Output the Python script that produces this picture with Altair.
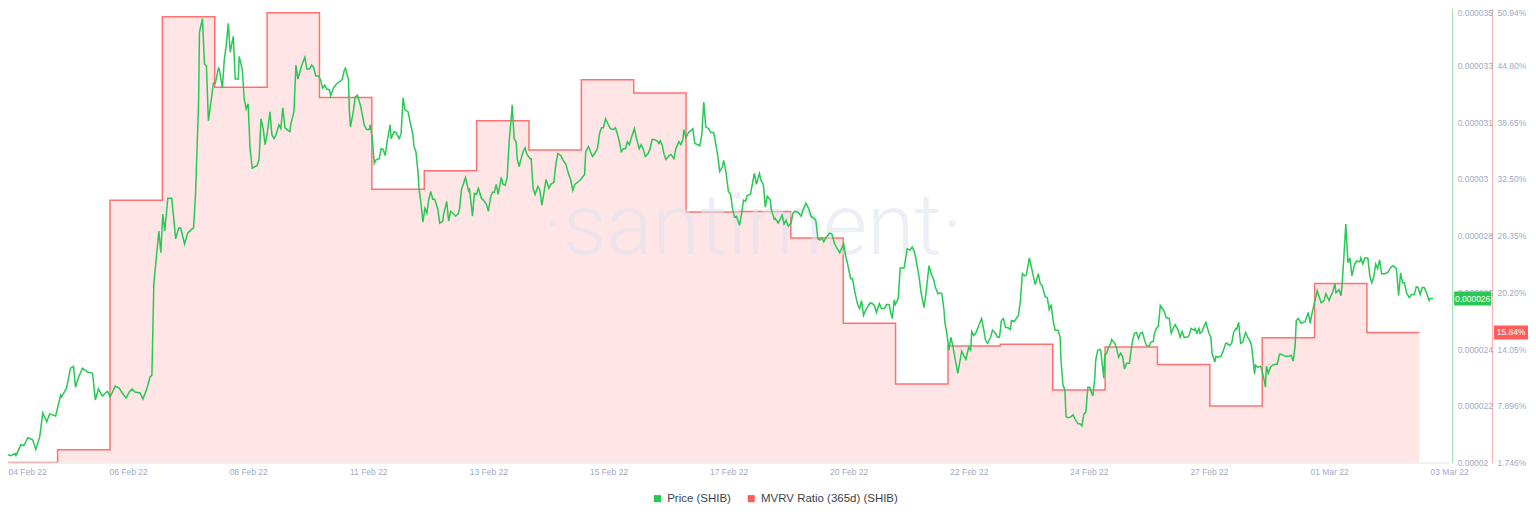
import json
import altair as alt
import pandas as pd

# ---------------- data ----------------
# Price of SHIB: hours after 2022-02-04 00:00 UTC, and price in millionths of USD
price_hours = [
    1.3, 2.6, 4.5, 4.9, 7.2, 8.5, 10.4, 12.6, 14.0, 15.8, 17.2, 19.0, 20.4, 23.1, 25.4, 25.8, 28.1, 29.9, 31.3, 32.2,
    33.6, 35.4, 37.7, 40.0, 41.3, 42.7, 44.5, 46.8, 48.1, 50.4, 52.2, 53.6, 55.4, 56.8, 58.1, 59.5, 61.8, 63.1, 65.0, 66.3,
    67.2, 68.1, 70.4, 71.3, 72.2, 73.1, 74.5, 76.3, 77.2, 78.1, 79.5, 80.4, 82.2, 83.6, 85.4, 86.3, 87.2, 88.6, 89.0, 90.4,
    91.3, 92.2, 93.1, 94.1, 95.4, 96.3, 97.7, 98.1, 99.5, 100.4, 101.3, 102.2, 103.1, 104.5, 105.4, 106.8, 107.2, 108.6, 109.5, 110.4,
    111.3, 112.2, 113.2, 114.5, 115.4, 116.3, 117.2, 118.2, 119.1, 120.0, 121.3, 122.2, 123.2, 124.1, 125.4, 126.3, 127.2, 128.2, 129.1, 130.4,
    130.9, 132.3, 133.2, 134.1, 135.0, 135.9, 137.3, 138.2, 139.5, 140.4, 141.3, 142.3, 143.6, 144.5, 145.4, 146.4, 147.3, 148.6, 149.1, 150.4,
    151.4, 152.3, 153.6, 154.5, 155.4, 155.9, 157.3, 157.7, 158.2, 159.5, 160.4, 161.4, 162.7, 163.2, 164.5, 165.5, 166.8, 167.3, 168.2, 169.1,
    170.0, 171.4, 172.3, 173.2, 174.1, 175.0, 176.4, 176.8, 178.2, 179.1, 180.5, 181.4, 182.3, 183.2, 184.6, 185.5, 186.8, 187.3, 188.2, 189.1,
    189.6, 190.5, 191.4, 192.3, 193.2, 194.1, 195.0, 195.9, 196.8, 198.2, 199.1, 200.5, 200.9, 202.3, 203.2, 204.1, 205.5, 206.4, 207.7, 208.2,
    209.1, 210.0, 210.9, 212.3, 212.7, 214.1, 215.0, 215.9, 216.8, 218.2, 219.1, 220.5, 221.4, 222.3, 223.2, 224.1, 225.0, 225.9, 227.3, 228.2,
    229.1, 230.0, 230.9, 231.9, 232.3, 233.2, 234.1, 234.6, 235.5, 236.4, 237.3, 238.2, 239.1, 240.5, 241.0, 241.9, 242.8, 244.1, 245.0, 245.9,
    246.9, 247.8, 249.1, 250.0, 251.4, 252.3, 253.2, 254.6, 255.5, 256.9, 258.2, 259.1, 260.1, 261.0, 262.3, 263.7, 265.5, 266.0, 267.3, 268.2,
    269.1, 270.1, 271.4, 272.3, 273.2, 274.1, 275.1, 276.4, 277.3, 278.7, 279.6, 280.5, 281.4, 282.3, 283.3, 284.2, 285.1, 286.0, 286.9, 288.3,
    289.2, 290.5, 291.4, 292.3, 293.3, 294.6, 295.5, 296.4, 297.3, 298.7, 299.6, 300.1, 301.0, 301.9, 302.8, 304.2, 305.1, 306.4, 307.3, 308.7,
    309.6, 310.5, 311.0, 311.9, 313.3, 314.2, 315.1, 316.0, 317.4, 318.3, 319.2, 320.1, 321.0, 322.4, 323.3, 324.6, 325.1, 326.4, 327.4, 328.7,
    329.2, 330.1, 331.4, 332.4, 333.3, 334.2, 335.1, 336.5, 337.4, 338.3, 339.2, 340.1, 341.5, 342.4, 343.3, 344.2, 345.6, 346.5, 347.4, 348.3,
    349.2, 350.6, 351.0, 352.4, 352.8, 354.2, 355.1, 356.0, 356.9, 357.8, 358.8, 360.1, 361.0, 361.9, 363.3, 364.7, 365.6, 366.9, 368.3, 369.2,
    370.6, 371.5, 372.4, 373.3, 374.2, 375.1, 376.0, 377.8, 378.8, 380.1, 382.4, 383.3, 384.2, 385.1, 386.0, 387.4, 388.3, 389.2, 390.6, 391.5,
    392.4, 393.3, 394.2, 395.6, 396.5, 397.4, 398.3, 399.2, 400.6, 401.5, 402.9, 403.8, 405.1, 405.6, 406.5, 407.4, 407.9, 409.2, 410.1, 411.9,
    413.3, 414.7, 415.6, 416.5, 417.4, 418.8, 419.7, 421.0, 421.9, 423.3, 424.2, 425.6, 426.0, 427.4, 428.3, 429.2, 430.1, 430.6, 431.5, 432.4,
    433.3, 434.2, 435.2, 436.5, 437.4, 438.3, 439.2, 440.2, 441.5, 442.4, 442.9, 443.8, 444.7, 446.1, 447.4, 448.3, 449.2, 450.1, 451.5, 452.4,
    453.8, 454.7, 455.6, 456.5, 457.4, 458.4, 459.3, 460.6, 461.1, 462.4, 463.3, 464.3, 465.2, 465.6, 466.1, 467.0, 467.9, 469.3, 470.2, 471.1,
    472.0, 473.4, 474.3, 475.2, 476.5, 477.5, 478.4, 479.3, 480.2, 481.1, 482.5, 483.4, 483.8, 484.7, 485.6, 486.1, 487.0, 488.4, 489.3, 490.2,
    491.6, 492.5, 493.4, 494.3, 495.2, 496.1, 497.0, 497.5, 498.4, 499.3, 499.7, 500.6, 501.6, 502.0, 503.4, 503.8, 504.7, 505.6, 506.6, 507.0,
    508.4, 509.3, 510.2, 511.1, 512.0, 512.9, 513.8, 515.2, 515.7, 516.6, 517.5, 518.4, 519.3, 520.2, 521.1, 522.0, 522.9, 524.3, 524.8, 526.1,
    526.6, 527.5, 528.4, 529.3, 530.2, 531.1, 532.0, 533.4, 534.3, 535.2, 536.1, 537.5, 538.4, 539.3, 540.2, 541.6, 542.5, 543.4, 544.8, 545.2,
    546.1, 547.0, 547.5, 548.4, 549.3, 550.2, 551.6, 552.5, 553.0, 554.3, 554.8, 555.7, 557.0, 557.9, 559.3, 559.8, 561.1, 562.0, 562.9, 563.9,
    564.3, 565.2, 566.1, 567.0, 568.4, 569.3, 570.2, 571.1, 571.6, 572.5, 572.9, 573.9, 575.2, 575.7, 576.6, 577.5, 577.9, 578.8, 579.8, 580.7,
    582.0, 582.9, 583.9, 584.8, 585.7, 586.6, 588.0, 589.3, 590.2, 591.1, 591.6, 592.5, 593.9, 594.8, 595.7, 597.1, 598.0, 598.9, 600.2, 601.2,
    602.1, 603.0, 604.3, 605.2, 606.6, 607.5, 608.4, 609.3, 609.8, 611.2, 612.1, 612.5, 613.4, 614.3, 615.3, 616.2, 617.1, 618.4, 619.3, 620.7,
    621.2, 622.1, 623.0, 624.4, 625.3, 626.2, 627.1, 628.0, 628.9, 629.8, 630.7, 632.1, 633.4, 634.8, 635.7, 636.6, 637.5, 638.5, 639.4, 640.3,
    641.2, 642.1, 643.4, 644.4, 645.7, 646.6, 647.5, 648.4, 649.3, 650.2, 651.1, 652.5, 652.9, 654.3,
]
price_usd_e6 = [
    20.26, 20.23, 20.30, 20.23, 20.59, 20.56, 20.82, 20.75, 20.43, 20.85, 21.64, 21.35, 21.61, 21.54, 22.23, 22.17, 22.46, 23.12, 23.18, 22.49,
    22.82, 23.12, 22.99, 22.95, 22.07, 22.43, 22.20, 22.36, 22.17, 22.53, 22.46, 22.30, 22.13, 22.33, 22.43, 22.33, 22.30, 22.10, 22.46, 22.82,
    22.89, 25.91, 27.65, 26.93, 28.21, 27.65, 28.73, 28.73, 28.07, 27.39, 27.75, 27.75, 27.22, 27.58, 27.71, 27.75, 28.86, 31.91, 34.21, 34.67,
    33.16, 33.10, 31.29, 31.82, 32.54, 32.54, 33.03, 33.00, 32.37, 33.33, 33.79, 34.51, 33.56, 34.08, 32.67, 32.67, 33.42, 33.00, 32.01, 31.68,
    31.85, 30.37, 29.72, 29.78, 29.81, 30.01, 31.36, 31.03, 30.50, 30.83, 31.59, 30.83, 30.70, 30.83, 31.16, 31.03, 31.72, 31.06, 31.00, 30.93,
    31.19, 31.59, 33.13, 32.67, 32.90, 33.13, 33.39, 33.00, 33.00, 33.13, 33.06, 32.77, 32.77, 32.64, 32.37, 32.47, 32.34, 32.31, 32.11, 32.37,
    32.47, 32.54, 32.60, 32.67, 32.97, 33.03, 32.64, 31.59, 31.09, 31.59, 32.08, 32.14, 31.82, 31.65, 31.16, 31.00, 31.00, 31.16, 30.70, 29.88,
    30.01, 30.04, 30.37, 30.34, 30.14, 30.60, 31.16, 30.70, 30.93, 30.90, 30.70, 30.86, 32.05, 31.65, 31.59, 31.26, 30.83, 30.44, 30.27, 29.62,
    29.06, 28.57, 27.94, 28.40, 28.24, 28.70, 28.96, 28.70, 28.70, 28.37, 27.91, 27.98, 28.21, 28.63, 27.98, 28.30, 28.21, 28.14, 28.24, 28.40,
    29.03, 29.22, 29.42, 28.99, 29.06, 28.14, 28.89, 28.86, 29.06, 28.73, 28.67, 28.53, 28.30, 28.73, 28.93, 28.93, 29.19, 28.86, 29.42, 29.19,
    29.16, 29.42, 30.60, 31.42, 31.82, 30.70, 30.60, 30.04, 29.78, 30.04, 30.27, 30.40, 30.18, 30.04, 30.04, 29.06, 28.86, 29.12, 28.99, 28.50,
    28.93, 29.35, 29.06, 29.19, 29.26, 29.85, 30.21, 30.14, 30.01, 29.85, 29.52, 29.35, 28.99, 29.19, 29.26, 29.35, 29.52, 30.27, 30.44, 30.27,
    30.11, 30.21, 30.37, 30.86, 31.06, 31.06, 31.36, 31.16, 31.03, 31.00, 31.06, 30.86, 30.60, 30.27, 30.37, 30.37, 30.60, 30.50, 30.73, 31.03,
    30.73, 30.37, 30.50, 30.37, 30.11, 30.21, 30.37, 30.67, 30.67, 30.63, 30.54, 30.63, 30.50, 30.18, 30.01, 30.14, 30.18, 30.04, 30.37, 30.60,
    30.50, 30.67, 31.00, 30.73, 30.93, 30.96, 31.03, 30.54, 30.50, 30.47, 30.83, 31.91, 31.09, 31.03, 30.90, 30.90, 30.73, 30.18, 29.62, 29.78,
    29.98, 29.68, 28.96, 28.86, 28.37, 28.11, 28.14, 27.84, 28.21, 28.67, 28.63, 28.83, 28.86, 29.22, 29.55, 29.19, 29.55, 29.29, 29.19, 28.44,
    28.80, 28.67, 28.37, 28.04, 28.07, 27.91, 28.04, 28.17, 27.88, 28.01, 27.81, 27.91, 28.24, 28.30, 28.27, 28.14, 28.34, 28.57, 28.37, 28.14,
    28.07, 27.98, 27.39, 27.35, 27.42, 27.29, 27.42, 27.58, 27.55, 27.22, 26.93, 27.09, 27.22, 26.83, 26.56, 26.07, 26.07, 25.68, 25.22, 25.09,
    25.35, 24.86, 25.02, 25.19, 25.28, 25.25, 25.19, 24.96, 25.25, 25.09, 25.09, 25.22, 25.22, 24.99, 24.76, 25.38, 25.22, 25.42, 26.43, 26.43,
    27.06, 27.02, 27.12, 26.99, 26.70, 26.11, 25.61, 25.12, 25.58, 26.50, 26.27, 26.01, 25.84, 25.58, 25.61, 25.58, 25.09, 24.63, 24.27, 23.71,
    24.14, 23.87, 23.45, 22.95, 23.32, 23.68, 23.54, 23.41, 23.81, 23.71, 24.33, 24.20, 24.27, 24.53, 24.76, 24.43, 24.04, 23.94, 24.14, 24.37,
    24.27, 24.14, 24.14, 24.69, 24.76, 24.46, 24.46, 24.40, 24.69, 24.66, 24.76, 24.86, 25.35, 25.78, 26.24, 26.17, 26.20, 26.76, 26.47, 26.17,
    25.88, 26.24, 25.91, 25.84, 25.48, 25.45, 25.05, 25.22, 24.69, 24.37, 24.37, 24.14, 23.38, 22.56, 22.40, 21.51, 21.48, 21.51, 21.58, 21.44,
    21.28, 21.28, 21.21, 21.61, 21.67, 22.49, 22.49, 22.36, 22.20, 22.82, 23.38, 23.71, 23.74, 23.71, 22.79, 23.54, 23.61, 23.81, 23.94, 24.07,
    23.94, 23.77, 23.48, 23.61, 23.51, 23.09, 23.28, 23.28, 23.61, 24.04, 24.27, 24.30, 24.10, 24.27, 24.30, 24.07, 23.87, 23.84, 23.97, 24.00,
    24.27, 24.43, 24.50, 25.19, 25.09, 24.99, 24.79, 24.76, 24.27, 24.43, 24.56, 24.37, 24.14, 24.33, 24.14, 24.14, 24.20, 24.43, 24.37, 24.43,
    24.27, 24.43, 24.27, 24.33, 24.50, 24.63, 24.27, 24.14, 23.61, 23.32, 23.51, 23.48, 23.51, 23.64, 23.94, 23.94, 23.87, 23.94, 24.30, 24.43,
    24.40, 24.63, 23.94, 23.97, 24.30, 24.14, 24.04, 23.87, 23.54, 22.92, 23.22, 23.15, 23.18, 23.09, 22.82, 22.49, 23.18, 22.95, 23.15, 23.22,
    23.25, 23.25, 23.58, 23.58, 23.54, 23.51, 23.51, 23.54, 23.35, 23.87, 24.69, 24.76, 24.60, 24.63, 24.66, 24.96, 24.60, 24.96, 25.35, 25.68,
    25.48, 25.28, 25.35, 25.58, 25.35, 25.51, 25.65, 25.91, 25.61, 25.71, 25.51, 25.78, 26.76, 27.88, 26.60, 26.76, 26.17, 26.56, 26.66, 26.63,
    26.76, 26.56, 26.76, 26.76, 26.17, 25.94, 26.11, 26.56, 26.40, 26.70, 26.24, 26.24, 26.27, 26.43, 26.50, 26.47, 26.40, 25.51, 26.27, 25.94,
    25.94, 25.61, 25.45, 25.55, 25.55, 25.81, 25.78, 25.55, 25.78, 25.78, 25.65, 25.35, 25.42, 25.42,
]

# MVRV Ratio (365d), daily values in percent
mvrv_dates = [
    "2022-02-04", "2022-02-05", "2022-02-06", "2022-02-07", "2022-02-08", "2022-02-09", "2022-02-10",
    "2022-02-11", "2022-02-12", "2022-02-13", "2022-02-14", "2022-02-15", "2022-02-16", "2022-02-17",
    "2022-02-18", "2022-02-19", "2022-02-20", "2022-02-21", "2022-02-22", "2022-02-23", "2022-02-24",
    "2022-02-25", "2022-02-26", "2022-02-27", "2022-02-28", "2022-03-01", "2022-03-02",
]
mvrv_pct = [
    1.746, 3.15, 30.17, 50.05, 42.40, 50.48, 41.29,
    31.35, 33.36, 38.78, 35.62, 43.23, 41.79, 28.90,
    28.95, 26.08, 16.85, 10.25, 14.37, 14.56, 9.60,
    14.27, 12.37, 7.88, 15.28, 21.16, 15.84,
]

x_tick_labels = ["04 Feb 22", "06 Feb 22", "08 Feb 22", "11 Feb 22", "13 Feb 22", "15 Feb 22", "17 Feb 22",
                 "20 Feb 22", "22 Feb 22", "24 Feb 22", "27 Feb 22", "01 Mar 22", "03 Mar 22"]
price_tick_labels = ["0.00002", "0.000022", "0.000024", "0.000026", "0.000028", "0.00003",
                     "0.000031", "0.000033", "0.000035"]
mvrv_tick_labels = ["1.746%", "7.896%", "14.05%", "20.20%", "26.35%", "32.50%", "38.65%", "44.80%", "50.94%"]
price_badge_label = "0.000026"
series_names = ["Price (SHIB)", "MVRV Ratio (365d) (SHIB)"]
watermark_text = ["\u00b7santiment\u00b7"]

# ---------------- styling ----------------
W, H = 1444, 455
GREEN, RED = "#26C953", "#FF5B5B"
LABEL_COLOR = "#9faac4"
AXIS_FONT = "Liberation Sans"
AXIS_FS = 8.5


def label_expr(values, labels, eps):
    """Nested ternary that maps each tick value to its text."""
    expr = '""'
    for v, lab in reversed(list(zip(values, labels))):
        expr = f"abs(datum.value - ({v!r})) < {eps!r} ? {json.dumps(lab)} : ({expr})"
    return expr


# ---------------- frames ----------------
base = pd.Timestamp("2022-02-04")
price_df = pd.DataFrame({
    "time": (base + pd.to_timedelta(price_hours, unit="h")).strftime("%Y-%m-%dT%H:%M:%SZ"),
    "price": [v * 1e-6 for v in price_usd_e6],
})
mvrv_df = pd.DataFrame({
    "time": [d + "T00:00:00Z" for d in mvrv_dates + ["2022-03-03"]],
    "mvrv": mvrv_pct + [mvrv_pct[-1]],   # closes the last daily step
})

# x domain and evenly spaced ticks
t0 = pd.Timestamp("2022-02-04 01:16")
t1 = t0 + pd.Timedelta(hours=660.4)
t0_ms = int(t0.value // 10**6)
t1_ms = int(t1.value // 10**6)
x_step = (t1_ms - t0_ms) / 12
x_ticks = [t0_ms + k * x_step for k in range(13)]
x_scale = alt.Scale(type="utc", domain=[t0_ms, t1_ms])

p_lo, p_hi = 2e-5, 3.5e-5
p_step = (p_hi - p_lo) / 8
price_ticks = [p_lo + k * p_step for k in range(9)]
price_scale = alt.Scale(domain=[p_lo, p_hi], zero=False, nice=False)

m_lo, m_hi = 1.746, 50.94
m_step = (m_hi - m_lo) / 8
mvrv_ticks = [m_lo + k * m_step for k in range(9)]
mvrv_scale = alt.Scale(domain=[m_lo, m_hi], zero=False, nice=False)

x_axis = alt.Axis(
    values=x_ticks,
    labelExpr=label_expr(x_ticks, x_tick_labels, x_step / 2),
    ticks=False, grid=False, title=None,
    domainColor="#e3e5ec", domainWidth=1,
    labelColor=LABEL_COLOR, labelFont=AXIS_FONT, labelFontSize=AXIS_FS, labelPadding=5,
    labelOverlap=False, labelFlush=False,
    labelAlign={"condition": {"test": f"datum.value <= {t0_ms}", "value": "left"}, "value": "center"},
)
price_axis = alt.Axis(
    orient="right", offset=3, values=price_ticks,
    labelExpr=label_expr(price_ticks, price_tick_labels, p_step / 2),
    ticks=False, grid=False, title=None,
    domainColor=GREEN, domainOpacity=0.5, domainWidth=1,
    labelColor=LABEL_COLOR, labelFont=AXIS_FONT, labelFontSize=AXIS_FS, labelPadding=5,
    labelOverlap=False, labelFlush=False,
    labelBaseline={"condition": {"test": f"datum.value >= {p_hi * 0.9999}", "value": "top"}, "value": "middle"},
)
mvrv_axis = alt.Axis(
    orient="right", offset=43, values=mvrv_ticks,
    labelExpr=label_expr(mvrv_ticks, mvrv_tick_labels, m_step / 2),
    ticks=False, grid=False, title=None,
    domainColor=RED, domainOpacity=0.5, domainWidth=1,
    labelColor=LABEL_COLOR, labelFont=AXIS_FONT, labelFontSize=AXIS_FS, labelPadding=5,
    labelOverlap=False, labelFlush=False,
    labelBaseline={"condition": {"test": f"datum.value >= {m_hi * 0.9999}", "value": "top"}, "value": "middle"},
)

# shared channel definitions (same axis object everywhere the scale is shared)
X_ENC = alt.X("time:T", scale=x_scale, axis=x_axis)
MVRV_Y = alt.Y("mvrv:Q", scale=mvrv_scale, axis=mvrv_axis)
PRICE_Y = alt.Y("price:Q", scale=price_scale, axis=price_axis)

# ---------------- MVRV group ----------------
mvrv_area = alt.Chart(mvrv_df).mark_area(
    interpolate="step-after", color=RED, fillOpacity=0.16, clip=True,
    line={"color": RED, "strokeWidth": 1.5, "strokeOpacity": 0.85},
).encode(x=X_ENC, y=MVRV_Y, y2=alt.datum(m_lo))

mvrv_badge_df = pd.DataFrame({"mvrv": [mvrv_pct[-1]], "label": [f"{mvrv_pct[-1]:.2f}%"]})
mvrv_badge_rect = alt.Chart(mvrv_badge_df).mark_rect(color=RED, yOffset=-7, y2Offset=7).encode(
    x=alt.value(W + 45), x2=alt.value(W + 79), y=MVRV_Y, y2=alt.Y2("mvrv:Q"),
)
mvrv_badge_text = alt.Chart(mvrv_badge_df).mark_text(
    color="white", fontSize=8.5, font=AXIS_FONT, align="center", baseline="middle"
).encode(x=alt.value(W + 62), y=MVRV_Y, text="label:N")
mvrv_group = alt.layer(mvrv_area, mvrv_badge_rect, mvrv_badge_text)

# ---------------- watermark ----------------
watermark = alt.Chart(pd.DataFrame({"t": watermark_text})).mark_text(
    font="Roboto", fontSize=86, fontWeight=300, color="#dfe3f0", opacity=0.55,
    align="center", baseline="alphabetic",
).encode(x=alt.value(746), y=alt.value(246), text="t:N")

# ---------------- price group ----------------
price_line = alt.Chart(price_df).mark_line(color=GREEN, strokeWidth=1.5, clip=True).encode(
    x=X_ENC, y=PRICE_Y,
)
price_badge_df = pd.DataFrame({"price": [price_df["price"].iloc[-1]], "label": [price_badge_label]})
price_badge_rect = alt.Chart(price_badge_df).mark_rect(color=GREEN, yOffset=-7, y2Offset=7).encode(
    x=alt.value(W + 5), x2=alt.value(W + 42), y=PRICE_Y, y2=alt.Y2("price:Q"),
)
price_badge_text = alt.Chart(price_badge_df).mark_text(
    color="white", fontSize=8.5, font=AXIS_FONT, align="center", baseline="middle"
).encode(x=alt.value(W + 23.5), y=PRICE_Y, text="label:N")
price_group = alt.layer(price_line, price_badge_rect, price_badge_text)

# ---------------- legend ----------------
legend_layer = alt.Chart(pd.DataFrame({"series": series_names})).mark_square(opacity=0, filled=True).encode(
    color=alt.Color(
        "series:N",
        scale=alt.Scale(domain=series_names, range=[GREEN, RED]),
        legend=alt.Legend(
            orient="none", legendX=645, legendY=485, direction="horizontal", title=None,
            symbolType="square", symbolSize=50, symbolOpacity=1, symbolStrokeWidth=0,
            labelFont="Liberation Sans", labelFontSize=11.5, labelColor="#3d3f4a",
            labelOffset=4, columnPadding=14, padding=0,
        ),
    )
)

chart = alt.layer(mvrv_group, watermark, price_group, legend_layer).resolve_scale(
    y="independent"
).properties(width=W, height=H, padding=0, background="white").configure_view(stroke=None)

chart.save("out.html", embed_options={"renderer": "svg", "actions": False})
